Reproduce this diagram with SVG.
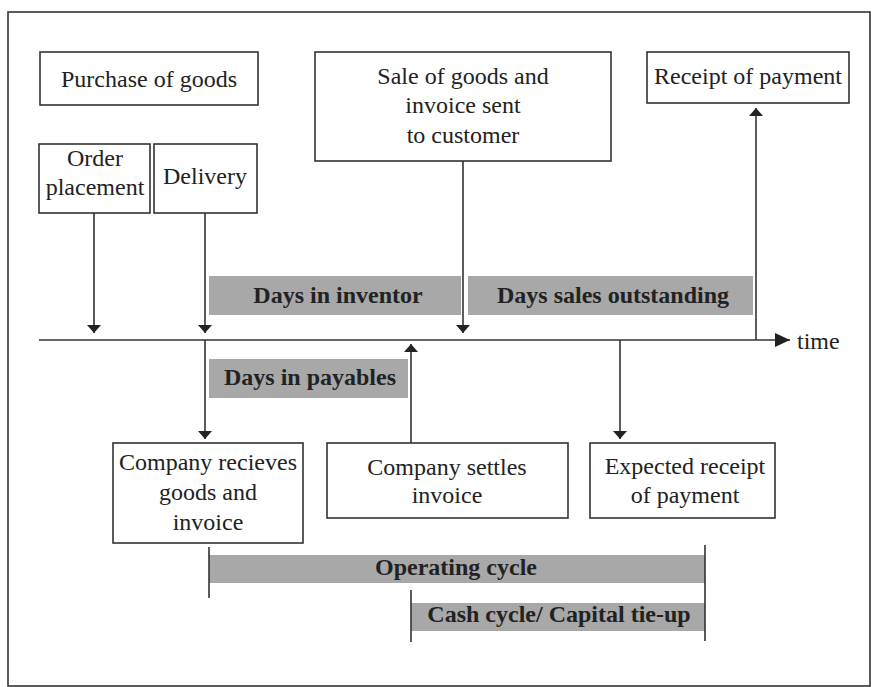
<svg xmlns="http://www.w3.org/2000/svg" width="872" height="687" viewBox="0 0 872 687">
<style>
.box{fill:#fff;stroke:#333;stroke-width:1.6}
.bar{fill:#a8a8a8}
.t{font-family:"Liberation Serif","Times New Roman",serif;font-size:24px;fill:#222;text-anchor:middle}
.b{font-weight:bold}
.ln{stroke:#333;stroke-width:1.6;fill:none}
</style>
<defs>
<marker id="ah" viewBox="0 0 8 14" markerWidth="8" markerHeight="14" refX="8" refY="7" orient="auto" markerUnits="userSpaceOnUse"><path d="M0,0 L8,7 L0,14 z" fill="#222"/></marker>
<marker id="big" viewBox="0 0 15 14" markerWidth="15" markerHeight="14" refX="15" refY="7" orient="auto" markerUnits="userSpaceOnUse"><path d="M0,0 L15,7 L0,14 z" fill="#222"/></marker>
</defs>
<rect x="0" y="0" width="872" height="687" fill="#fff"/>
<rect x="8" y="12" width="862" height="674" fill="none" stroke="#333" stroke-width="1.6"/>

<g id="bars">
<rect class="bar" x="209" y="276" width="252" height="39"/>
<text class="t b" x="338" y="303">Days in inventor</text>
<rect class="bar" x="468" y="276" width="285" height="39"/>
<text class="t b" x="613" y="303">Days sales outstanding</text>
<rect class="bar" x="209" y="359" width="199" height="39"/>
<text class="t b" x="310" y="385">Days in payables</text>
<rect class="bar" x="209" y="555" width="496" height="28"/>
<text class="t b" x="456" y="575">Operating cycle</text>
<rect class="bar" x="411" y="603" width="294" height="28"/>
<text class="t b" x="559" y="622">Cash cycle/ Capital tie-up</text>
</g>

<g id="connectors">
<line class="ln" x1="39" y1="340" x2="790" y2="340" marker-end="url(#big)"/>
<line class="ln" x1="94" y1="213" x2="94" y2="333" marker-end="url(#ah)"/>
<line class="ln" x1="205" y1="213" x2="205" y2="333" marker-end="url(#ah)"/>
<line class="ln" x1="463" y1="161" x2="463" y2="333" marker-end="url(#ah)"/>
<line class="ln" x1="756" y1="340" x2="756" y2="108" marker-end="url(#ah)"/>
<line class="ln" x1="205" y1="340" x2="205" y2="439" marker-end="url(#ah)"/>
<line class="ln" x1="411" y1="443" x2="411" y2="344" marker-end="url(#ah)"/>
<line class="ln" x1="620" y1="340" x2="620" y2="439" marker-end="url(#ah)"/>
<line class="ln" x1="209" y1="547" x2="209" y2="598"/>
<line class="ln" x1="705" y1="545" x2="705" y2="641"/>
<line class="ln" x1="411" y1="590" x2="411" y2="642"/>
</g>

<g id="purchase"><rect class="box" x="40" y="52" width="218" height="53"/><text class="t" x="149" y="87">Purchase of goods</text></g>
<g id="order"><rect class="box" x="39" y="144" width="111" height="69"/><text class="t" x="95" y="166">Order</text><text class="t" x="95" y="195">placement</text></g>
<g id="delivery"><rect class="box" x="154" y="144" width="103" height="69"/><text class="t" x="205" y="184">Delivery</text></g>
<g id="sale"><rect class="box" x="315" y="52" width="296" height="109"/><text class="t" x="463" y="84">Sale of goods and</text><text class="t" x="463" y="113">invoice sent</text><text class="t" x="463" y="143">to customer</text></g>
<g id="receipt"><rect class="box" x="647" y="52" width="202" height="51"/><text class="t" x="748" y="84">Receipt of payment</text></g>
<text id="time" class="t" x="797" y="349" style="text-anchor:start">time</text>
<g id="receives"><rect class="box" x="113" y="443" width="190" height="100"/><text class="t" x="208" y="470">Company recieves</text><text class="t" x="208" y="500">goods and</text><text class="t" x="208" y="530">invoice</text></g>
<g id="settles"><rect class="box" x="327" y="443" width="241" height="75"/><text class="t" x="447" y="475">Company settles</text><text class="t" x="447" y="503">invoice</text></g>
<g id="expected"><rect class="box" x="590" y="443" width="185" height="75"/><text class="t" x="685" y="474">Expected receipt</text><text class="t" x="685" y="503">of payment</text></g>
</svg>
